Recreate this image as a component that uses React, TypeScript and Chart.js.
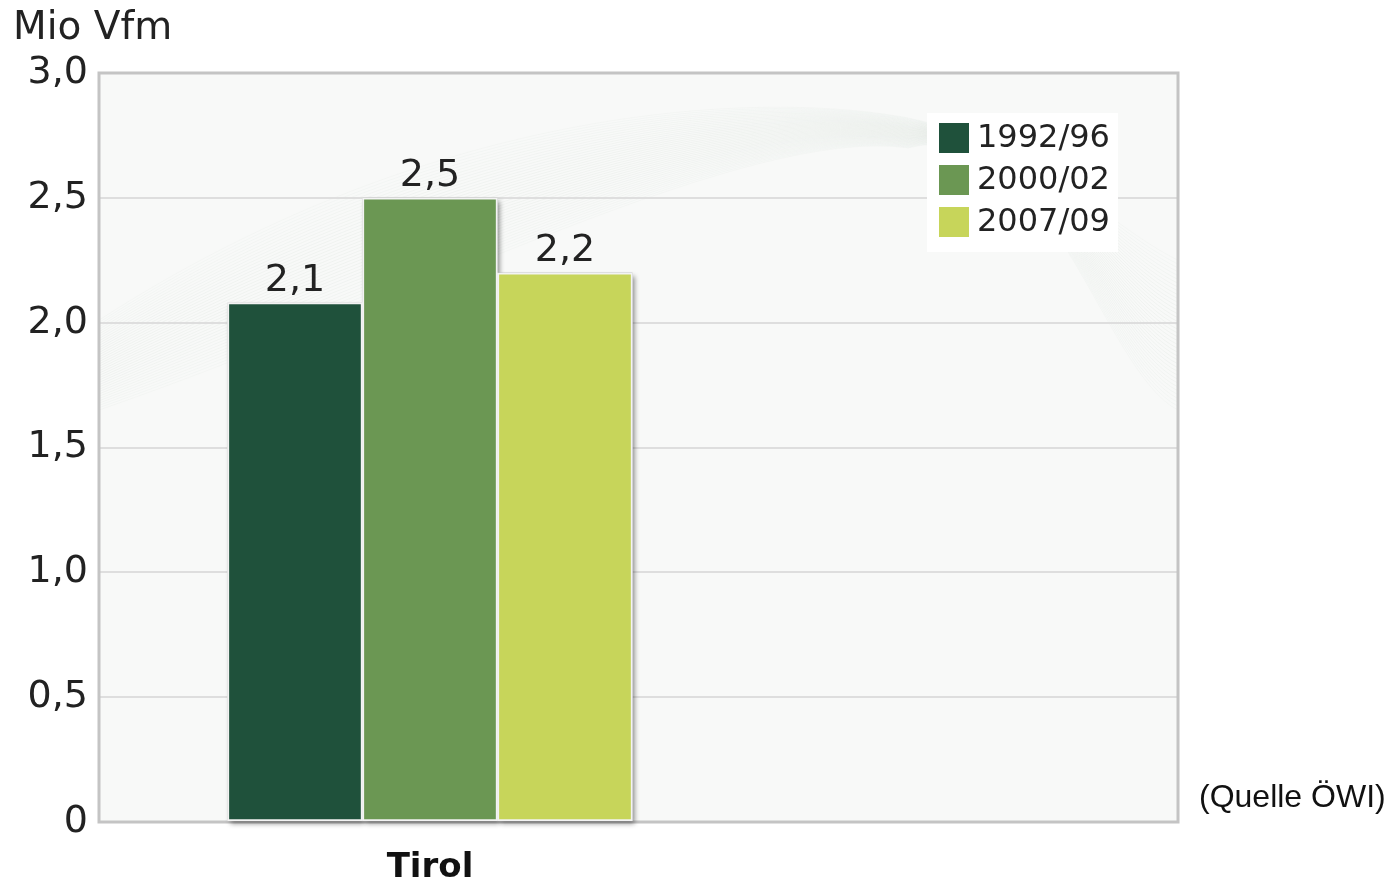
import React, { useEffect, useRef } from "react";
import { Chart, registerables } from "chart.js";

Chart.register(...registerables);

const categories = ["Tirol"];
const seriesLabels = ["1992/96", "2000/02", "2007/09"];
const values1992 = [2.08];
const values2000 = [2.5];
const values2007 = [2.2];
const yTicks = [0, 0.5, 1.0, 1.5, 2.0, 2.5, 3.0];
const yTitle = "Mio Vfm";
const sourceNote = "(Quelle ÖWI)";

const colors = ["#1f513b", "#6b9753", "#c7d55a"];
const FONT = "'DejaVu Sans', Verdana, sans-serif";

const fmt = (v: number) => (v === 0 ? "0" : v.toFixed(1).replace(".", ","));

const decorPlugin = {
  id: "decor",
  beforeDraw(chart: any) {
    const { ctx, chartArea: a } = chart;
    const w = a.right - a.left;
    const h = a.bottom - a.top;
    ctx.save();
    ctx.fillStyle = "#f8f9f8";
    ctx.fillRect(a.left, a.top, w, h);
    // faint decorative wave texture
    ctx.beginPath();
    ctx.rect(a.left, a.top, w, h);
    ctx.clip();
    ctx.lineWidth = 1;
    for (let k = 0; k < 40; k++) {
      const t = k / 39;
      ctx.strokeStyle = `rgba(150,175,155,${0.05 + 0.04 * Math.sin(t * Math.PI)})`;
      ctx.beginPath();
      ctx.moveTo(a.left, a.top + h * (0.33 + 0.12 * t));
      ctx.bezierCurveTo(
        a.left + w * 0.3, a.top + h * (0.05 + 0.25 * t),
        a.left + w * 0.6, a.top + h * (0.02 + 0.05 * t),
        a.left + w * 0.75, a.top + h * (0.06 + 0.04 * t)
      );
      ctx.bezierCurveTo(
        a.left + w * 0.88, a.top + h * (0.1 - 0.05 * t),
        a.left + w * 0.93, a.top + h * (0.2 + 0.2 * t),
        a.right, a.top + h * (0.25 + 0.2 * t)
      );
      ctx.stroke();
    }
    ctx.restore();
  },
  beforeDatasetsDraw(chart: any) {
    const { ctx, chartArea: a } = chart;
    ctx.save();
    ctx.strokeStyle = "#c4c4c4";
    ctx.lineWidth = 3;
    ctx.strokeRect(a.left, a.top, a.right - a.left, a.bottom - a.top);
    ctx.shadowColor = "rgba(0,0,0,0.45)";
    ctx.shadowBlur = 5;
    ctx.shadowOffsetX = 3;
    ctx.shadowOffsetY = 3;
    ctx.fillStyle = "#888";
    chart.data.datasets.forEach((_: any, i: number) => {
      const meta = chart.getDatasetMeta(i);
      meta.data.forEach((bar: any) => {
        const { x, y, base, width } = bar.getProps(["x", "y", "base", "width"], true);
        ctx.fillRect(x - width / 2, y, width, base - y);
      });
    });
    ctx.restore();
  },
  afterDatasetsDraw(chart: any) {
    const { ctx } = chart;
    ctx.save();
    ctx.fillStyle = "#222";
    ctx.font = `38px ${FONT}`;
    ctx.textAlign = "center";
    ctx.textBaseline = "alphabetic";
    chart.data.datasets.forEach((ds: any, i: number) => {
      const meta = chart.getDatasetMeta(i);
      meta.data.forEach((bar: any, j: number) => {
        const v = ds.data[j].y;
        ctx.fillText(fmt(v), bar.x, bar.y - 12);
      });
    });
    ctx.restore();
  },
  afterDraw(chart: any) {
    const { ctx, chartArea: a } = chart;
    ctx.save();
    ctx.fillStyle = "#222";
    ctx.font = `39px ${FONT}`;
    ctx.textAlign = "left";
    ctx.textBaseline = "alphabetic";
    ctx.fillText(yTitle, 13, 39);
    const bx = a.right - 251;
    const by = a.top + 40;
    ctx.fillStyle = "#ffffff";
    ctx.fillRect(bx, by, 191, 139);
    ctx.font = `32px ${FONT}`;
    ctx.textBaseline = "middle";
    chart.data.datasets.forEach((ds: any, i: number) => {
      const cy = by + 25 + i * 42;
      ctx.fillStyle = ds.backgroundColor;
      ctx.fillRect(bx + 12, cy - 15, 30, 30);
      ctx.fillStyle = "#222";
      ctx.fillText(ds.label, bx + 50, cy + 1);
    });
    ctx.font = `32px 'Liberation Sans', Arial, sans-serif`;
    ctx.fillStyle = "#111";
    ctx.textBaseline = "alphabetic";
    ctx.fillText(sourceNote, a.right + 21, 807);
    ctx.restore();
  },
};

export default function App() {
  const ref = useRef<HTMLCanvasElement | null>(null);
  useEffect(() => {
    if (!ref.current) return;
    const seriesValues = [values1992, values2000, values2007];
    const chart = new Chart(ref.current, {
      type: "bar",
      data: {
        datasets: seriesLabels.map((label, i) => ({
          label,
          data: seriesValues[i].map((y, k) => ({ x: k, y })),
          backgroundColor: colors[i],
          borderColor: "rgba(255,255,255,0.9)",
          borderWidth: 2,
          borderSkipped: false,
          barThickness: 135,
        })),
      },
      options: {
        animation: false,
        responsive: true,
        maintainAspectRatio: false,
        layout: { padding: { top: 73, right: 222, bottom: 0, left: 0 } },
        plugins: {
          legend: { display: false },
          tooltip: { enabled: false },
          title: { display: false },
        },
        scales: {
          x: {
            type: "linear",
            offset: false,
            bounds: "data",
            min: -0.5,
            max: 1.13,
            grid: { display: false, drawTicks: false, offset: false },
            border: { display: false },
            afterBuildTicks: (s: any) => {
              s.ticks = categories.map((_, i) => ({ value: i }));
            },
            afterFit: (s: any) => {
              s.height = 61;
            },
            ticks: {
              padding: 26,
              color: "#111",
              font: { family: FONT, size: 34, weight: "bold" },
              callback: (v: any) => categories[v] ?? "",
            },
          },
          y: {
            min: 0,
            max: 3,
            afterBuildTicks: (s: any) => {
              s.ticks = yTicks.map((v) => ({ value: v }));
            },
            afterFit: (s: any) => {
              s.width = 99;
            },
            grid: { color: "#dedede", lineWidth: 2, drawTicks: false },
            border: { display: false },
            ticks: {
              padding: 11,
              color: "#222",
              font: { family: FONT, size: 38 },
              callback: (v: any) => fmt(Number(v)),
            },
          },
        },
      },
      plugins: [decorPlugin],
    } as any);
    return () => chart.destroy();
  }, []);
  return (
    <div style={{ position: "fixed", left: 0, top: 0, width: 1400, height: 883, background: "#fff" }}>
      <canvas ref={ref} />
    </div>
  );
}
